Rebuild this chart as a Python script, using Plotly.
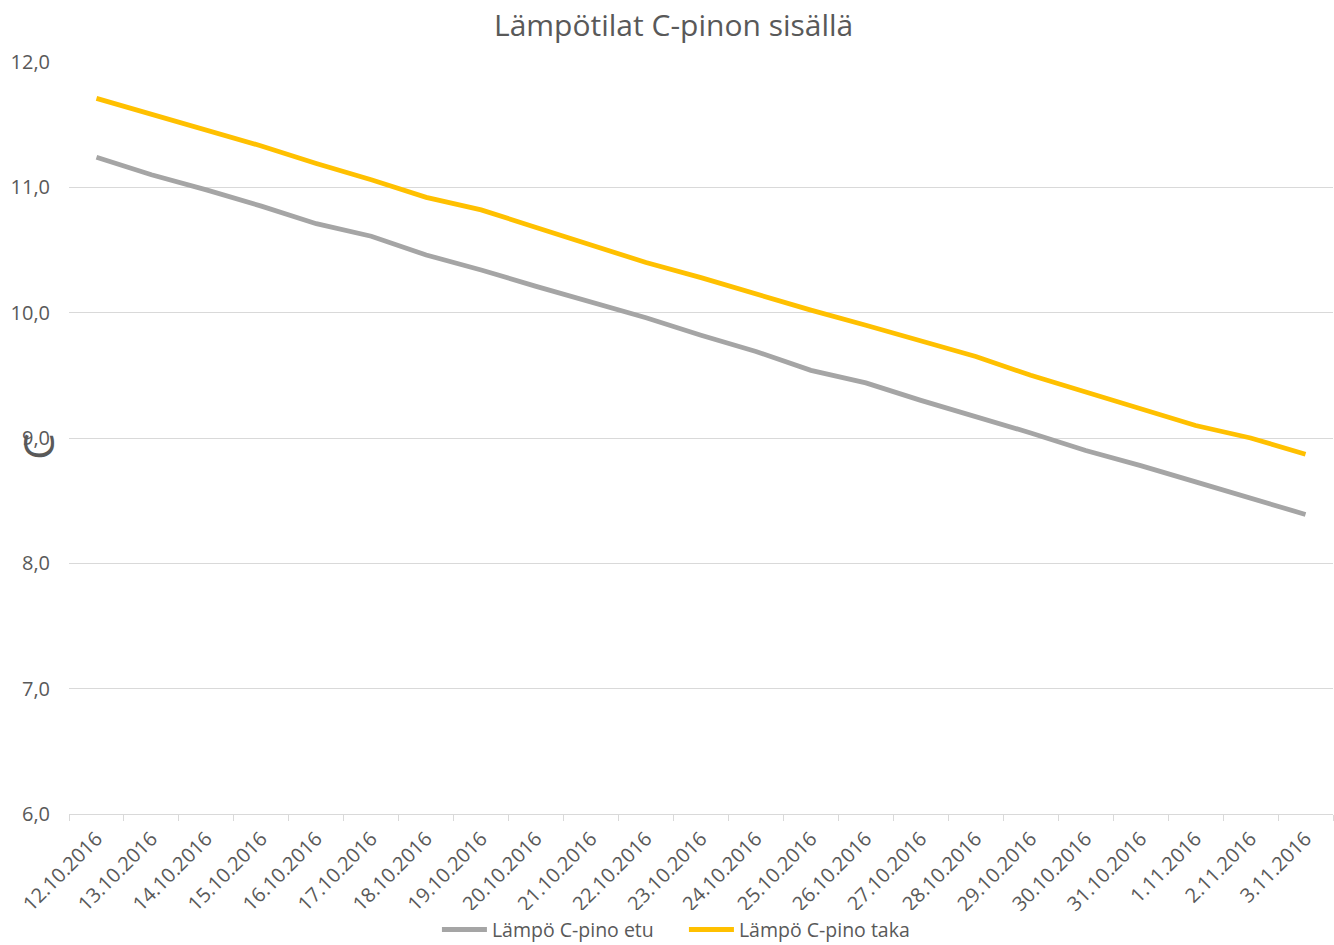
import plotly.graph_objects as go

# Päivämäärät (kategoria-akseli)
dates = [
    "12.10.2016", "13.10.2016", "14.10.2016", "15.10.2016", "16.10.2016",
    "17.10.2016", "18.10.2016", "19.10.2016", "20.10.2016", "21.10.2016",
    "22.10.2016", "23.10.2016", "24.10.2016", "25.10.2016", "26.10.2016",
    "27.10.2016", "28.10.2016", "29.10.2016", "30.10.2016", "31.10.2016",
    "1.11.2016", "2.11.2016", "3.11.2016",
]

# Lämpötilat (°C)
temp_front = [
    11.24, 11.10, 10.98, 10.85, 10.71, 10.61, 10.46, 10.34, 10.21, 10.08,
    9.96, 9.82, 9.69, 9.54, 9.44, 9.30, 9.17, 9.04, 8.90, 8.78,
    8.65, 8.52, 8.39,
]
temp_back = [
    11.71, 11.585, 11.46, 11.33, 11.19, 11.06, 10.92, 10.82, 10.68, 10.54,
    10.40, 10.28, 10.15, 10.02, 9.90, 9.77, 9.65, 9.50, 9.37, 9.24,
    9.10, 9.00, 8.87,
]

series_names = ["Lämpö C-pino etu", "Lämpö C-pino taka"]
y_ticks = [6, 7, 8, 9, 10, 11, 12]

TEXT = "#595959"
GRID = "#D9D9D9"
FONT = "Open Sans, Noto Sans, sans-serif"

fig = go.Figure()
fig.add_trace(go.Scatter(
    x=dates, y=temp_front, mode="lines", name=series_names[0],
    line=dict(color="#A5A5A5", width=4.8),
))
fig.add_trace(go.Scatter(
    x=dates, y=temp_back, mode="lines", name=series_names[1],
    line=dict(color="#FFC000", width=4.8),
))

fig.update_layout(
    width=1334, height=945,
    separators=",.",
    paper_bgcolor="white", plot_bgcolor="white",
    margin=dict(l=69, r=1, t=62, b=131, autoexpand=False),
    font=dict(family=FONT, color=TEXT, size=20),
    title=dict(
        text="Lämpötilat C-pinon sisällä",
        x=0.505, xanchor="center", xref="container",
        y=1 - 25 / 945, yanchor="middle", yref="container",
        font=dict(family=FONT, size=30, color=TEXT),
    ),
    showlegend=True,
    legend=dict(
        orientation="h", x=0.4865, xanchor="center",
        y=-0.154, yanchor="middle",
        font=dict(family=FONT, size=19.5, color=TEXT),
        itemwidth=45,
        entrywidth=187, entrywidthmode="pixels",
    ),
)

fig.update_xaxes(
    type="category",
    range=[-0.5, len(dates) - 0.5],
    tickangle=-45,
    tickson="boundaries",
    ticks="outside", ticklen=6, tickcolor=GRID,
    ticklabelstandoff=4,
    showline=True, linecolor=GRID, linewidth=1,
    showgrid=False,
    tickfont=dict(family=FONT, size=20, color=TEXT),
)
fig.update_yaxes(
    range=[6, 12],
    tickvals=y_ticks,
    tickformat=".1f",
    showgrid=True, gridcolor=GRID, gridwidth=1,
    zeroline=False, showline=False,
    ticks="", ticklabelstandoff=18,
    tickfont=dict(family=FONT, size=20, color=TEXT),
)

# Akselin yksikkö, käännettynä pystyakselin viereen
fig.add_annotation(
    text="C", textangle=-90,
    xref="paper", yref="y",
    x=-0.0245, y=8.93,
    xanchor="center", yanchor="middle",
    showarrow=False,
    font=dict(family=FONT, size=42, color=TEXT),
)

fig.write_html("out.html")
